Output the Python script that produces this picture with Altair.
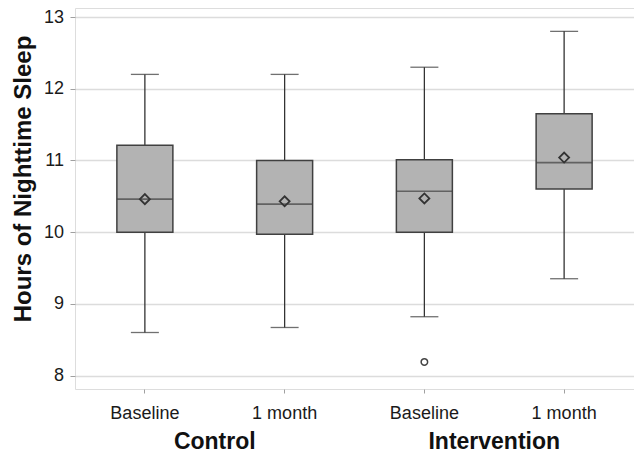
import altair as alt
import pandas as pd

# Data
groups = ["Control", "Control", "Intervention", "Intervention"]
times = ["Baseline", "1 month", "Baseline", "1 month"]
lower = [8.60, 8.67, 8.82, 9.35]
q1 = [10.00, 9.97, 10.00, 10.60]
median = [10.46, 10.39, 10.57, 10.97]
q3 = [11.21, 11.00, 11.01, 11.65]
upper = [12.20, 12.20, 12.30, 12.80]
mean = [10.46, 10.43, 10.47, 11.04]

outlier_cat = ["Intervention|Baseline"]
outlier_val = [8.19]

group_names = ["Control", "Intervention"]
group_anchor = ["Control|Baseline", "Intervention|Baseline"]

cats = [f"{g}|{t}" for g, t in zip(groups, times)]
df = pd.DataFrame({"cat": cats, "lower": lower, "q1": q1, "median": median,
                   "q3": q3, "upper": upper, "mean": mean})
df_out = pd.DataFrame({"cat": outlier_cat, "val": outlier_val})
df_grp = pd.DataFrame({"cat": group_anchor, "name": group_names})

FONT = "Liberation Sans"
xscale = alt.Scale(domain=cats, paddingInner=0, paddingOuter=0)
yscale = alt.Scale(domain=[7.812, 13.126], nice=False, zero=False)

xaxis = alt.Axis(labelExpr="split(datum.label, '|')[1]", labelAngle=0,
                 labelFont=FONT, labelFontSize=18, labelColor="#1a1a1a",
                 labelBaseline="alphabetic", labelPadding=25,
                 tickSize=4, tickColor="#a0a0a0", domain=False, grid=False)
yaxis = alt.Axis(values=[8, 9, 10, 11, 12, 13], labelFont=FONT, labelFontSize=18,
                 labelColor="#1a1a1a", labelPadding=6.5, tickSize=5,
                 tickColor="#a0a0a0", domain=False, gridColor="#dcdcdc",
                 gridWidth=1.5, titleFont=FONT, titleFontSize=24,
                 titleFontWeight="bold", titleColor="#111111", titleAngle=270,
                 titleX=-45, titleY=170.5, titleAlign="center",
                 titleBaseline="alphabetic")
YT = "Hours of Nighttime Sleep"


def X():
    return alt.X("cat:N", scale=xscale, sort=cats, title=None, axis=xaxis)


def Y(field):
    return alt.Y(field, scale=yscale, title=YT, axis=yaxis)


base = alt.Chart(df)

whisker = base.mark_rule(color="#333333", strokeWidth=1.3).encode(
    x=X(), y=Y("lower:Q"), y2="upper:Q")

box = base.mark_bar(size=56, fill="#b3b3b3", stroke="#404040", strokeWidth=1.5).encode(
    x=X(), y=Y("q1:Q"), y2="q3:Q")

med = base.mark_tick(size=56, thickness=1.6, color="#404040").encode(
    x=X(), y=Y("median:Q"))

cap_lo = base.mark_tick(size=28, thickness=1.3, color="#333333").encode(
    x=X(), y=Y("lower:Q"))
cap_hi = base.mark_tick(size=28, thickness=1.3, color="#333333").encode(
    x=X(), y=Y("upper:Q"))

mn = base.mark_point(shape="diamond", size=100, filled=False, color="#333333",
                     strokeWidth=1.8, opacity=1).encode(
    x=X(), y=Y("mean:Q"))

outl = alt.Chart(df_out).mark_point(shape="circle", size=42, filled=False, color="#444444",
                                    strokeWidth=1.5, opacity=1).encode(
    x=X(), y=Y("val:Q"))

grp = alt.Chart(df_grp).mark_text(font=FONT, fontSize=23, fontWeight="bold",
                                  color="#111111", baseline="alphabetic", align="center").encode(
    x=alt.X("cat:N", scale=xscale, sort=cats, title=None, axis=xaxis, bandPosition=1),
    y=alt.value(441),
    text="name:N")

chart = alt.layer(whisker, box, med, cap_lo, cap_hi, mn, outl, grp).properties(
    width=559, height=381,
    padding={"left": 67, "top": 0, "right": 0, "bottom": 66},
    autosize=alt.AutoSizeParams(type="none"),
).configure_view(stroke="#a6a6a6", strokeWidth=2).configure(background="white")

chart.save("out.html", embed_options={"renderer": "svg", "actions": False})
